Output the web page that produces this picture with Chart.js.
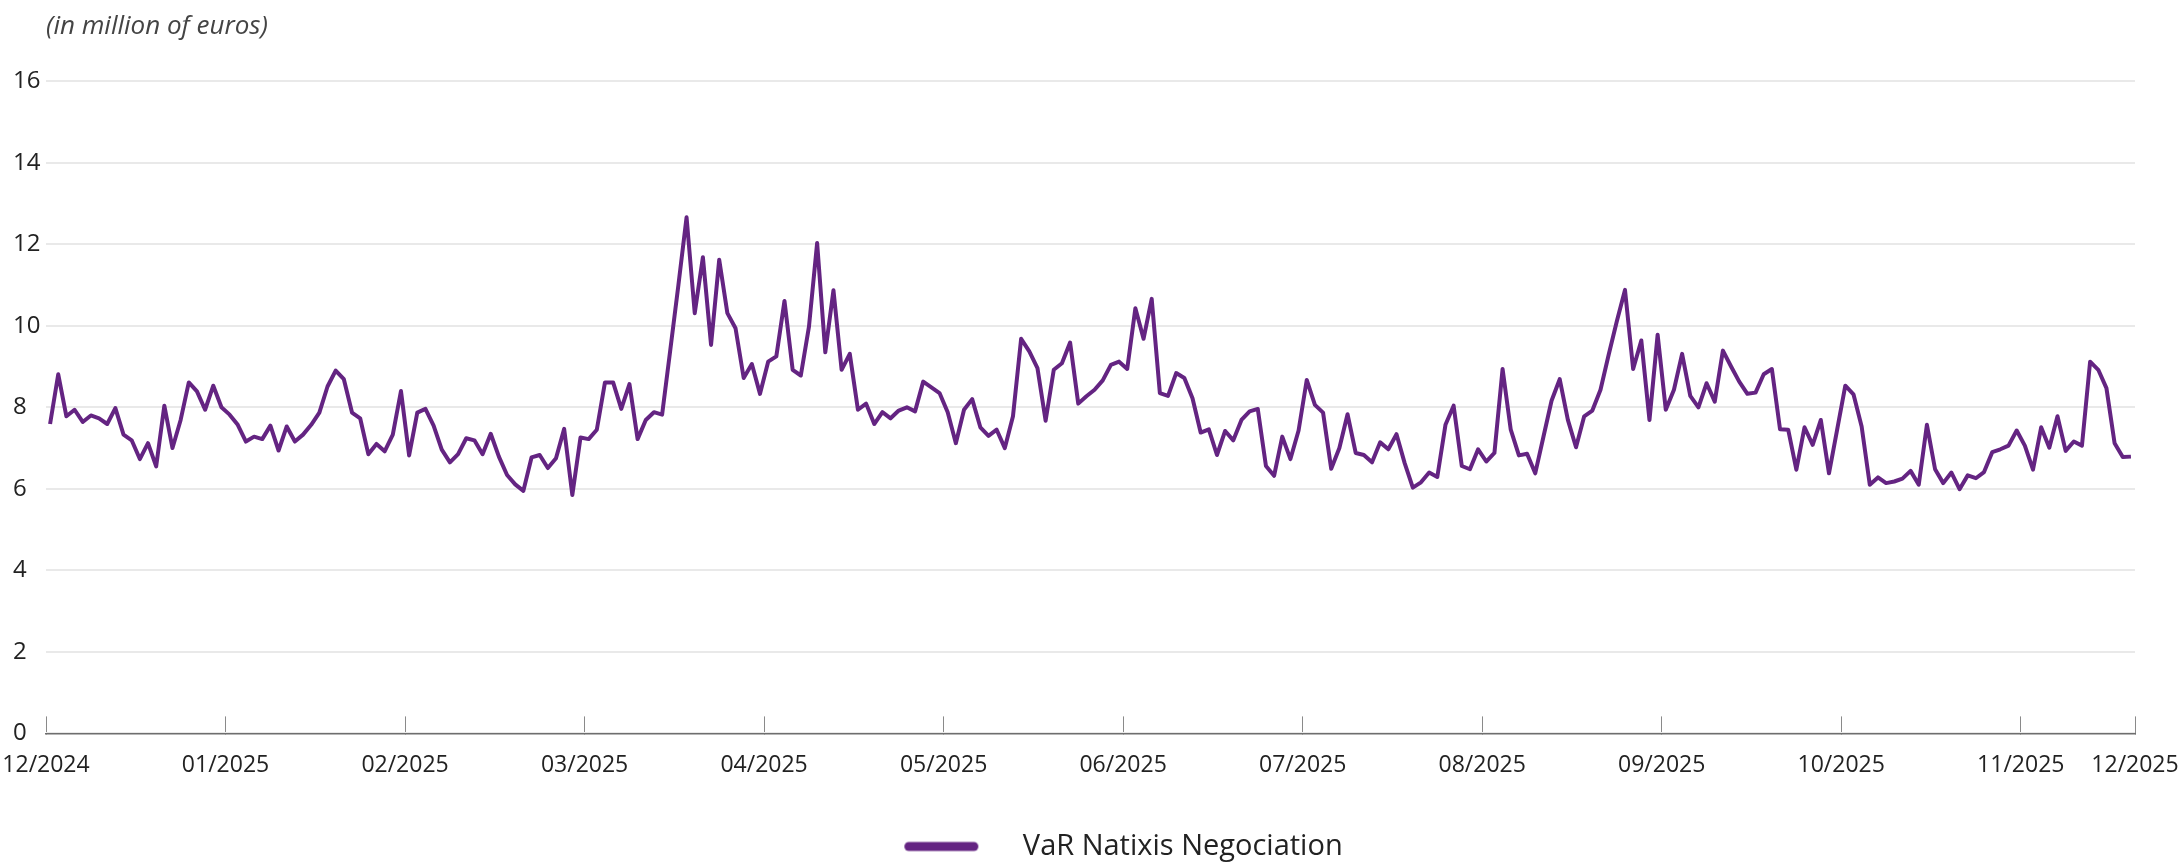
<!DOCTYPE html>
<html>
<head>
<meta charset="utf-8">
<script src="https://cdn.jsdelivr.net/npm/chart.js@4.4.1/dist/chart.umd.min.js"></script>
<style>
  html, body { margin: 0; padding: 0; background: #fff; }
  #wrap { width: 2182px; height: 867px; }
</style>
</head>
<body>
<div id="wrap"><canvas id="varChart"></canvas></div>
<script>
const seriesName = 'VaR Natixis Negociation';
const unitLabel = '(in million of euros)';
const monthLabels = ['12/2024', '01/2025', '02/2025', '03/2025', '04/2025', '05/2025', '06/2025',
                     '07/2025', '08/2025', '09/2025', '10/2025', '11/2025', '12/2025'];
// month ticks fall every 22 trading days, last one at the end of the axis
const monthTickAt = [-0.5, 21.5, 43.5, 65.5, 87.5, 109.5, 131.5, 153.5, 175.5, 197.5, 219.5, 241.5, 255.5];

const varValues = [
    7.59, 8.81, 7.78, 7.94, 7.64, 7.80, 7.73, 7.59, 7.98, 7.33,
    7.19, 6.73, 7.12, 6.55, 8.04, 7.00, 7.69, 8.61, 8.39, 7.94,
    8.53, 8.00, 7.82, 7.57, 7.16, 7.28, 7.22, 7.55, 6.94, 7.53,
    7.16, 7.33, 7.57, 7.87, 8.51, 8.90, 8.69, 7.87, 7.73, 6.85,
    7.10, 6.92, 7.33, 8.40, 6.82, 7.87, 7.96, 7.55, 6.96, 6.65,
    6.85, 7.24, 7.19, 6.85, 7.35, 6.79, 6.34, 6.11, 5.95,
    6.77, 6.83, 6.51, 6.75, 7.47, 5.85, 7.26, 7.22, 7.45, 8.61,
    8.61, 7.96, 8.57, 7.22, 7.69, 7.88, 7.82, 9.40, 11.00, 12.66,
    10.31, 11.68, 9.53, 11.62, 10.31, 9.94, 8.72, 9.06, 8.33, 9.12,
    9.25, 10.61, 8.92, 8.78, 9.98, 12.03, 9.35, 10.87, 8.92, 9.31,
    7.94, 8.09, 7.59, 7.88, 7.73, 7.92, 8.00, 7.90, 8.63, 8.49,
    8.35, 7.88, 7.12, 7.94, 8.20, 7.51, 7.30, 7.45, 7.00,
    7.78, 9.68, 9.37, 8.96, 7.67, 8.92, 9.08, 9.59, 8.09, 8.27,
    8.43, 8.66, 9.04, 9.12, 8.94, 10.43, 9.68, 10.66, 8.35, 8.28,
    8.84, 8.72, 8.22, 7.38, 7.46, 6.83, 7.42, 7.19, 7.69, 7.90,
    7.96, 6.56, 6.32, 7.28, 6.73, 7.43, 8.67, 8.06, 7.87, 6.49,
    7.00, 7.83, 6.88, 6.83, 6.65, 7.14, 6.97, 7.34, 6.63, 6.03,
    6.16, 6.40, 6.29, 7.57, 8.04, 6.56, 6.48, 6.97, 6.67,
    6.88, 8.94, 7.45, 6.82, 6.86, 6.38, 7.27, 8.16, 8.69, 7.69,
    7.02, 7.78, 7.92, 8.43, 9.29, 10.11, 10.88, 8.94, 9.64, 7.69,
    9.78, 7.94, 8.43, 9.31, 8.28, 8.00, 8.59, 8.14, 9.39,
    9.00, 8.63, 8.33, 8.36, 8.81, 8.94, 7.46, 7.45, 6.47, 7.51,
    7.08, 7.69, 6.38, 7.45, 8.53, 8.32, 7.53, 6.10, 6.28, 6.14,
    6.18, 6.25, 6.44, 6.10, 7.57, 6.48, 6.14, 6.40,
    5.99, 6.33, 6.26, 6.41, 6.90, 6.97, 7.06, 7.43, 7.06, 6.47,
    7.51, 7.01, 7.78, 6.93, 7.16, 7.06, 9.12, 8.92, 8.47, 7.12,
    6.78, 6.79
];

const purple = '#642482';
const fontFamily = '"Open Sans", "Noto Sans", sans-serif';

// legend sample: a thick rounded bar with some empty room on each side
const legendLine = document.createElement('canvas');
legendLine.width = 203;
legendLine.height = 12;
const lctx = legendLine.getContext('2d');
lctx.strokeStyle = purple;
lctx.lineWidth = 9;
lctx.lineCap = 'round';
lctx.beginPath();
lctx.moveTo(103.5, 6);
lctx.lineTo(168.5, 6);
lctx.stroke();

new Chart(document.getElementById('varChart'), {
    type: 'line',
    data: {
        datasets: [{
            label: seriesName,
            data: varValues.map((v, i) => ({ x: i, y: v })),
            borderColor: purple,
            backgroundColor: purple,
            borderWidth: 4,
            borderJoinStyle: 'round',
            pointRadius: 0,
            tension: 0,
            fill: false
        }]
    },
    options: {
        responsive: true,
        maintainAspectRatio: false,
        animation: false,
        layout: { padding: { left: 13, right: 47, top: 8, bottom: -4 } },
        scales: {
            x: {
                type: 'linear',
                min: -0.5,
                max: 255.5,
                afterBuildTicks: axis => { axis.ticks = monthTickAt.map(v => ({ value: v })); },
                afterFit: axis => { axis.paddingLeft = 0; axis.paddingRight = 0; },
                ticks: {
                    autoSkip: false,
                    maxRotation: 0,
                    padding: 35,
                    color: '#222',
                    font: { family: fontFamily, size: 23 },
                    callback: (v, i) => monthLabels[i]
                },
                grid: { drawOnChartArea: false, drawTicks: true, tickLength: -17, color: '#8a8a8a', lineWidth: 1 },
                border: { color: '#6e6e6e', width: 1.5 }
            },
            y: {
                min: 0,
                max: 16,
                ticks: { stepSize: 2, crossAlign: 'far', padding: 8, color: '#222', font: { family: fontFamily, size: 24 } },
                grid: { color: '#e9e9e9', lineWidth: 2, drawTicks: false },
                border: { display: false },
                afterFit: axis => { axis.width = 33; }
            }
        },
        plugins: {
            title: {
                display: true,
                text: unitLabel,
                align: 'start',
                fullSize: false,
                color: '#444',
                font: { family: fontFamily, size: 26, style: 'italic', weight: 'normal' },
                padding: { top: 3, bottom: 39 }
            },
            legend: {
                position: 'bottom',
                labels: {
                    usePointStyle: true,
                    pointStyle: legendLine,
                    pointStyleWidth: 203,
                    boxHeight: 12,
                    padding: 18,
                    color: '#222',
                    font: { family: fontFamily, size: 29 }
                }
            },
            tooltip: { enabled: false }
        }
    }
});
</script>
</body>
</html>
